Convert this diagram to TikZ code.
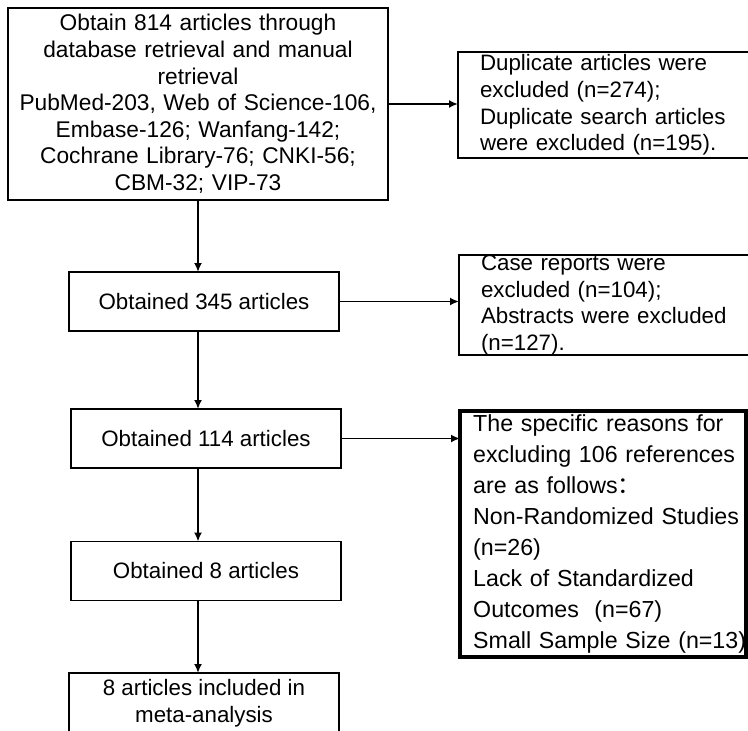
\documentclass[tikz,border=0pt]{standalone}
\usepackage{fontspec}
\setmainfont{Liberation Sans}
\newfontfamily\cjk{Noto Sans CJK SC}
\usetikzlibrary{arrows.meta}
\begin{document}
\begin{tikzpicture}[x=1bp,y=-1bp,
  box/.style={draw=black, line width=1.8bp, inner sep=0pt, outer sep=0pt},
  mbox/.style={box, minimum width=270bp, minimum height=59bp, align=center, font=\fontsize{22.4}{26.7}\selectfont},
  rbox/.style={box, anchor=north west, inner xsep=22bp, inner ysep=0pt, text width=290bp, minimum height=106bp, align=left, font=\fontsize{22.4}{26.7}\selectfont},
  flow/.style={line width=1.8bp, -{Latex[length=9bp,width=8bp]}}]
\useasboundingbox (0,0) rectangle (748,731);
\clip (0,0) rectangle (748,731);

\node[box, minimum width=380bp, minimum height=192bp, text width=370bp, align=center,
      font=\fontsize{22.8}{26.7}\selectfont] (src) at (198,104)
  {Obtain 814 articles through\\ database retrieval and manual\\ retrieval\\ PubMed-203, Web of Science-106,\\ Embase-126; Wanfang-142;\\ Cochrane Library-76; CNKI-56;\\ CBM-32; VIP-73};

\node[rbox] (dup) at (458,52)
  {Duplicate articles were\\ excluded (n=274);\\ Duplicate search articles\\ were excluded (n=195).};

\node[mbox] (n345) at (204,301.5) {Obtained 345 articles};

\node[rbox, minimum height=100bp] (case) at (459,255)
  {Case reports were\\ excluded (n=104);\\ Abstracts were excluded\\ (n=127).};

\node[mbox] (n114) at (206,438.5) {Obtained 114 articles};

\node[box, line width=3.5bp, minimum width=286bp, minimum height=246bp] (rsn) at (603,534) {};
\node[anchor=west, text width=276bp, align=left, inner sep=0pt,
      font=\fontsize{23.3}{31}\selectfont] (rsntxt) at (473,534)
  {The specific reasons for\\ excluding 106 references\\ are as follows{\cjk ：}\\ Non-Randomized Studies\\ (n=26)\\ Lack of Standardized\\ Outcomes\ \ (n=67)\\ Small Sample Size (n=13)};

\node[mbox] (n8) at (206,571) {Obtained 8 articles};

\node[mbox, minimum height=60bp] (incl) at (204,703) {8 articles included in\\ meta-analysis};

\draw[flow] (src.south) -- (src.south |- n345.north);
\draw[flow] (src.south |- n345.south) -- (src.south |- n114.north);
\draw[flow] (src.south |- n114.south) -- (src.south |- n8.north);
\draw[flow] (src.south |- n8.south) -- (src.south |- incl.north);

\draw[flow] (src.east) -- (src.east -| dup.west);
\draw[flow] (n345.east) -- (n345.east -| case.west);
\draw[flow] (n114.east) -- (n114.east -| rsn.west);
\end{tikzpicture}
\end{document}
